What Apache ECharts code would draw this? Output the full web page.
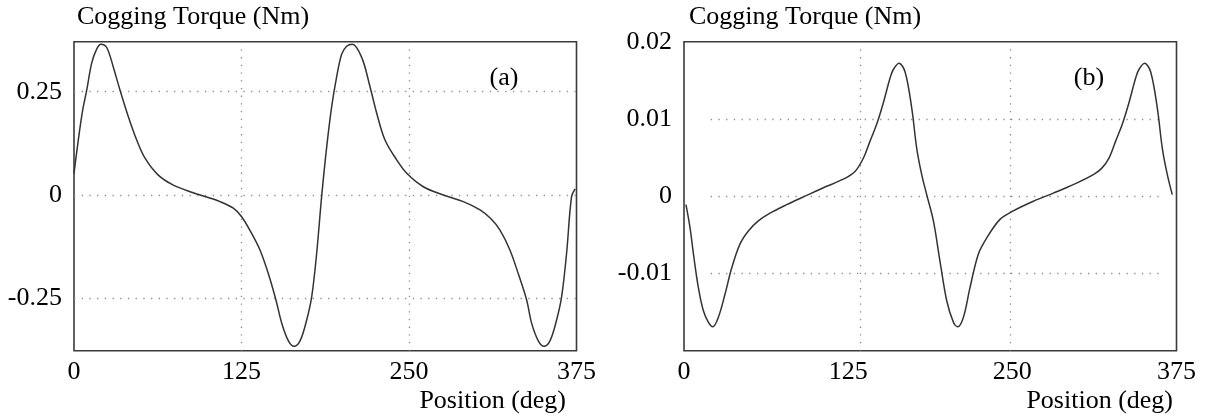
<!DOCTYPE html>
<html>
<head>
<meta charset="utf-8">
<script src="https://cdn.jsdelivr.net/npm/echarts@6/dist/echarts.min.js"></script>
<style>
html,body{margin:0;padding:0;background:#fff;}
#chart{width:1211px;height:417px;}
</style>
</head>
<body>
<div id="chart"></div>
<script>
// ---------- data ----------
// (a) cogging torque, Nm
const posA = [0, 3.2, 6.5, 9.5, 13.2, 16.9, 20.1, 24.4, 29.3, 34.3, 40.5, 46.8, 53, 62.9, 74.1, 89, 96.5, 109, 118.9, 125.1, 132.6, 138.8, 145, 150.7, 155, 160, 164.2, 168.7, 173.6, 177.4, 181.1, 184.8, 188.6, 192.3, 196, 199.8, 203.5, 207.7, 214.7, 220.9, 225.9, 232.1, 240.8, 248.3, 260.7, 275.6, 290.5, 303, 311, 317.9, 325.3, 331.5, 337.8, 341.5, 346.5, 350.7, 355.2, 360.1, 363.9, 367.6, 371.3, 374];
const torqueA = [0.0525, 0.133, 0.206, 0.254, 0.319, 0.353, 0.365, 0.357, 0.310, 0.254, 0.190, 0.133, 0.089, 0.048, 0.024, 0.0056, -0.0024, -0.016, -0.032, -0.0525, -0.093, -0.133, -0.19, -0.254, -0.31, -0.353, -0.366, -0.353, -0.303, -0.246, -0.141, -0.004, 0.117, 0.214, 0.286, 0.341, 0.360, 0.365, 0.333, 0.262, 0.198, 0.133, 0.085, 0.0525, 0.020, 0.0, -0.016, -0.036, -0.057, -0.085, -0.133, -0.19, -0.254, -0.31, -0.353, -0.366, -0.353, -0.303, -0.246, -0.141, -0.004, 0.015];

// (b) cogging torque, Nm
const posB = [1.5, 4.6, 7.6, 10.9, 14.7, 18.5, 21.9, 26.1, 31.2, 36.3, 42.6, 49, 56.6, 65.5, 78.2, 93.4, 106.1, 121.3, 130.2, 136.5, 141.6, 146.7, 151.8, 156.9, 159.4, 163.7, 168.3, 173.4, 177.2, 181, 184.8, 189.9, 194.9, 200, 205.1, 208.4, 212.7, 217.8, 224.1, 230.5, 240.6, 250.7, 266, 281.2, 296.4, 311.7, 318, 323.5, 328.6, 333.7, 338.8, 343.9, 346.4, 350.7, 355.3, 360.4, 364.2, 368, 371.8];
const torqueB = [-0.0011, -0.0041, -0.008, -0.0118, -0.0148, -0.0163, -0.0169, -0.0157, -0.0127, -0.0093, -0.0062, -0.0045, -0.0032, -0.0022, -0.0011, 0.0001, 0.0011, 0.0022, 0.0032, 0.0049, 0.0071, 0.0093, 0.0121, 0.0153, 0.0164, 0.0172, 0.0161, 0.0114, 0.0062, 0.0028, 0.0002, -0.0032, -0.0084, -0.0135, -0.0163, -0.0169, -0.0157, -0.0118, -0.0075, -0.0054, -0.003, -0.0019, -0.00065, 0.0004, 0.0015, 0.0028, 0.0036, 0.0049, 0.0071, 0.0093, 0.0121, 0.0153, 0.0164, 0.0172, 0.0161, 0.0114, 0.0062, 0.0028, 0.0002];

// axes / ticks
const xTicks = [0, 125, 250, 375];
const yTicksA = [-0.25, 0, 0.25];
const yTicksB = [-0.01, 0, 0.01, 0.02];
const yTitle = 'Cogging Torque (Nm)';
const xTitle = 'Position (deg)';
const panelLabels = ['(a)', '(b)'];

// ---------- chart ----------
const FONT = 'Liberation Serif';
const FS = 26;
const TXT = '#000';
const dotted = { color: '#8c8c8c', width: 1.3, type: [1.3, 6.4] };
const zip = (xs, ys) => xs.map((x, i) => [x, ys[i]]);
const xStep = xTicks[1] - xTicks[0];
const fmt = v => String(+v.toFixed(4));
const labelStyle = { color: TXT, fontFamily: FONT, fontSize: FS };
const noLine = { show: false };
const border = { show: true, borderColor: '#3a3a3a', borderWidth: 1.6, backgroundColor: 'transparent' };
const font = FS + 'px "' + FONT + '"';

const chart = echarts.init(document.getElementById('chart'), null, { renderer: 'canvas' });

const option = {
  animation: false,
  backgroundColor: '#fff',
  grid: [
    Object.assign({ left: 74, right: 634.5, top: 41.7, bottom: 66.3 }, border),  // 0: plot (a)
    { left: 74, right: 634.5, top: 0, bottom: 15.4 },                              // 1: (a) horizontal grid + y labels
    Object.assign({ left: 684, right: 34.5, top: 41.7, bottom: 66.3 }, border),   // 2: plot (b)
    { left: 710.7, right: 50.3, top: 41.7, bottom: 66.3 }                          // 3: (b) inner dotted grid
  ],
  xAxis: [
    { gridIndex: 0, type: 'value', min: xTicks[0], max: xTicks[3], interval: xStep,
      axisLine: noLine, axisTick: noLine,
      axisLabel: Object.assign({ margin: 8, formatter: fmt, showMinLabel: true, showMaxLabel: true }, labelStyle),
      splitLine: { show: true, showMinLine: false, showMaxLine: false, lineStyle: dotted } },
    { gridIndex: 1, type: 'value', min: xTicks[0], max: xTicks[3], show: false },
    { gridIndex: 2, type: 'value', min: xTicks[0], max: xTicks[3], interval: xStep,
      axisLine: noLine, axisTick: noLine,
      axisLabel: Object.assign({ margin: 8, formatter: fmt, showMinLabel: true, showMaxLabel: true }, labelStyle),
      splitLine: noLine },
    { gridIndex: 3, type: 'value', min: xTicks[0], max: xTicks[3], interval: xStep,
      axisLine: noLine, axisTick: noLine, axisLabel: noLine,
      splitLine: { show: true, showMinLine: false, showMaxLine: false, lineStyle: dotted } }
  ],
  yAxis: [
    { gridIndex: 0, type: 'value', min: -0.3768, max: 0.371,
      axisLine: noLine, axisTick: noLine, axisLabel: noLine, splitLine: noLine },
    { gridIndex: 1, type: 'value', min: -0.5, max: 0.4719, interval: yTicksA[2] - yTicksA[1],
      axisLine: noLine, axisTick: noLine,
      axisLabel: Object.assign({ margin: 12, formatter: fmt, showMinLabel: false, showMaxLabel: false }, labelStyle),
      splitLine: { show: true, showMinLine: false, showMaxLine: false, lineStyle: dotted } },
    { gridIndex: 2, type: 'value', min: -0.02, max: yTicksB[3], interval: yTicksB[1] - yTicksB[0],
      axisLine: noLine, axisTick: noLine,
      axisLabel: Object.assign({ margin: 12, formatter: fmt, showMinLabel: false, showMaxLabel: true }, labelStyle),
      splitLine: noLine },
    { gridIndex: 3, type: 'value', min: -0.02, max: yTicksB[3], interval: yTicksB[1] - yTicksB[0],
      axisLine: noLine, axisTick: noLine, axisLabel: noLine,
      splitLine: { show: true, showMinLine: false, showMaxLine: false, lineStyle: dotted } }
  ],
  series: [
    { type: 'line', xAxisIndex: 0, yAxisIndex: 0, data: zip(posA, torqueA),
      showSymbol: false, symbol: 'none', smooth: 0.35, clip: true,
      lineStyle: { color: '#333', width: 1.5 } },
    { type: 'line', xAxisIndex: 2, yAxisIndex: 2, data: zip(posB, torqueB),
      showSymbol: false, symbol: 'none', smooth: 0.35, clip: true,
      lineStyle: { color: '#333', width: 1.5 } }
  ],
  graphic: [
    { type: 'text', x: 77, y: 17.5, style: { text: yTitle, font: font, fill: TXT, textAlign: 'left', textVerticalAlign: 'middle' } },
    { type: 'text', x: 689, y: 17.5, style: { text: yTitle, font: font, fill: TXT, textAlign: 'left', textVerticalAlign: 'middle' } },
    { type: 'text', x: 566, y: 401.5, style: { text: xTitle, font: font, fill: TXT, textAlign: 'right', textVerticalAlign: 'middle' } },
    { type: 'text', x: 1173, y: 401.5, style: { text: xTitle, font: font, fill: TXT, textAlign: 'right', textVerticalAlign: 'middle' } },
    { type: 'text', x: 504, y: 78, style: { text: panelLabels[0], font: font, fill: TXT, textAlign: 'center', textVerticalAlign: 'middle' } },
    { type: 'text', x: 1089, y: 78, style: { text: panelLabels[1], font: font, fill: TXT, textAlign: 'center', textVerticalAlign: 'middle' } }
  ]
};
chart.setOption(option);
</script>
</body>
</html>
